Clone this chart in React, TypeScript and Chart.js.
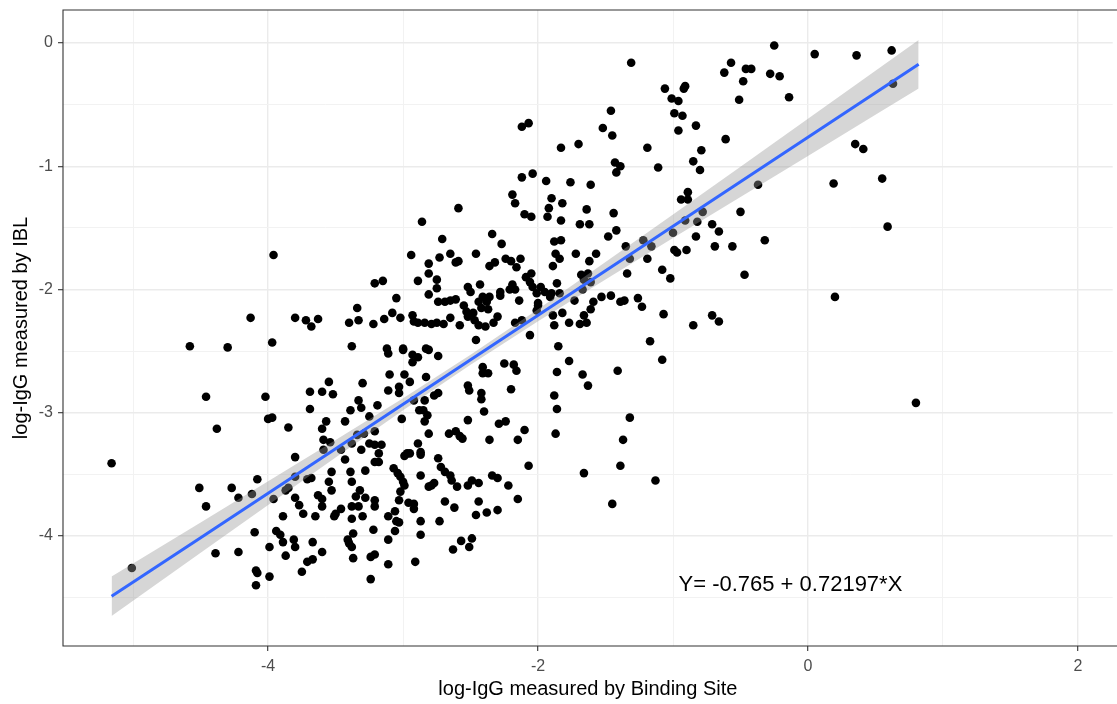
import React, { useEffect, useRef } from "react";
import { Chart, registerables } from "chart.js";

Chart.register(...registerables);

const FONT = "'Liberation Sans', Arial, Helvetica, sans-serif";

// Axis labels
const xTitle = "log-IgG measured by Binding Site";
const yTitle = "log-IgG measured by IBL";
const annotationText = "Y= -0.765 + 0.72197*X";
const annotationX = -0.13;
const annotationY = -4.4;

// Grid / tick values
const xGridValues = [-5, -4, -3, -2, -1, 0, 1, 2];
const xLabelValues = [-4, -2, 0, 2];
const yGridValues = [-4.5, -4, -3.5, -3, -2.5, -2, -1.5, -1, -0.5, 0];
const yLabelValues = [-4, -3, -2, -1, 0];

// Fitted line and 95% band, read at several x positions
const bandX = [-5.16, -4.5, -4, -3.5, -3, -2.5, -2, -1.5, -1, -0.5, 0, 0.5, 0.82];
const fitY = [-4.49, -4.014, -3.653, -3.292, -2.931, -2.57, -2.209, -1.848, -1.487, -1.126, -0.765, -0.404, -0.173];
const bandLower = [-4.65, -4.137, -3.749, -3.363, -2.98, -2.61, -2.258, -1.919, -1.583, -1.249, -0.916, -0.583, -0.37];
const bandUpper = [-4.33, -3.891, -3.557, -3.221, -2.882, -2.53, -2.16, -1.777, -1.391, -1.003, -0.614, -0.225, 0.024];

// Observations: [Binding Site, IBL]
const observations: [number, number][] = [
  [-0.25,-0.02],[0.05,-0.09],[0.36,-0.10],[0.62,-0.06],[0.63,-0.33],[-1.31,-0.16],[-0.57,-0.16],[-0.62,-0.24],[-0.46,-0.21],[-0.42,-0.21],
  [-0.28,-0.25],[-0.21,-0.27],[-0.48,-0.31],[-0.14,-0.44],[-0.51,-0.46],[-1.06,-0.37],[-0.91,-0.35],[-0.92,-0.37],[-1.01,-0.45],[-0.96,-0.47],
  [-0.99,-0.57],[-0.93,-0.59],[-0.96,-0.71],[-0.83,-0.67],[-0.61,-0.78],[0.35,-0.82],[0.41,-0.86],[-1.46,-0.55],[-1.52,-0.69],[-1.45,-0.75],
  [-2.12,-0.68],[-2.07,-0.65],[-1.83,-0.85],[-1.70,-0.82],[-1.19,-0.85],[-0.79,-0.87],
  [-1.11,-1.01],[-0.85,-0.96],[-0.80,-1.03],[0.19,-1.14],[0.55,-1.10],[-0.37,-1.15],[-0.89,-1.21],[-0.94,-1.27],[-0.89,-1.27],[-0.50,-1.37],
  [-0.78,-1.37],[-0.91,-1.44],[-0.82,-1.45],[-0.71,-1.47],[-0.66,-1.53],[0.59,-1.49],[-1.00,-1.54],[-1.22,-1.60],[-1.16,-1.65],[-0.83,-1.57],
  [-0.32,-1.60],[-0.69,-1.65],[-0.56,-1.65],[-0.99,-1.68],[-0.97,-1.70],[-0.90,-1.68],[-1.19,-1.75],[-1.08,-1.84],[-1.02,-1.91],[-0.47,-1.88],
  [0.20,-2.06],[-1.26,-2.07],[-1.23,-2.14],[-1.07,-2.20],[-0.71,-2.21],[-0.66,-2.26],[-0.85,-2.29],[-1.17,-2.42],[0.80,-2.92],[-1.08,-2.57],
  [-1.43,-0.97],[-1.39,-1.00],[-1.42,-1.05],[-2.12,-1.09],[-2.04,-1.06],[-1.94,-1.12],[-1.76,-1.13],[-1.61,-1.15],[-2.19,-1.23],[-2.17,-1.30],
  [-1.90,-1.26],[-1.82,-1.30],[-1.92,-1.34],[-1.64,-1.35],[-1.44,-1.38],[-2.59,-1.34],[-2.86,-1.45],[-2.10,-1.39],[-2.05,-1.41],[-1.93,-1.41],
  [-1.83,-1.44],[-1.69,-1.47],[-1.62,-1.47],[-1.42,-1.52],[-1.48,-1.57],[-2.34,-1.55],[-2.27,-1.63],[-2.71,-1.59],[-1.88,-1.61],[-1.83,-1.60],
  [-1.35,-1.65],[-2.94,-1.72],[-2.73,-1.74],[-2.65,-1.71],[-2.61,-1.78],[-2.59,-1.77],[-2.46,-1.71],[-2.36,-1.81],[-2.32,-1.78],[-2.24,-1.75],
  [-2.20,-1.77],[-2.13,-1.75],[-2.16,-1.82],[-1.87,-1.71],[-1.84,-1.75],[-1.89,-1.81],[-1.72,-1.71],[-1.57,-1.71],[-1.62,-1.77],[-1.32,-1.75],
  [-1.34,-1.87],[-2.81,-1.79],[-2.81,-1.87],[-3.15,-1.93],[-2.89,-1.93],[-2.75,-1.92],[-2.75,-1.99],[-2.81,-2.04],[-3.05,-2.07],[-2.74,-2.10],
  [-2.69,-2.10],[-2.65,-2.09],[-2.61,-2.08],[-2.52,-1.98],[-2.50,-2.02],[-2.43,-1.96],[-2.28,-2.02],[-2.28,-2.05],[-2.19,-1.96],[-2.21,-2.00],
  [-2.17,-2.00],[-2.14,-2.09],[-2.09,-1.90],[-2.05,-1.87],[-2.06,-1.94],[-2.04,-1.98],[-1.98,-1.98],[-2.01,-2.03],[-1.95,-2.02],[-1.86,-1.95],
  [-1.90,-2.03],[-1.84,-2.03],[-2.00,-2.11],[-1.91,-2.06],[-1.68,-1.88],[-1.63,-1.87],[-1.61,-1.94],[-1.66,-1.92],[-1.73,-2.09],[-1.59,-2.10],
  [-1.67,-2.00],[-1.53,-2.06],[-1.46,-2.05],[-1.39,-2.10],[-1.36,-2.09],[-3.08,-2.19],[-3.02,-2.23],[-3.14,-2.24],[-2.93,-2.21],[-2.92,-2.26],
  [-2.89,-2.27],[-2.84,-2.27],[-2.79,-2.28],[-2.75,-2.27],[-2.70,-2.28],[-2.65,-2.23],[-2.58,-2.29],[-2.55,-2.13],[-2.53,-2.18],[-2.48,-2.19],
  [-2.52,-2.22],[-2.44,-2.10],[-2.42,-2.15],[-2.37,-2.16],[-2.38,-2.10],[-2.41,-2.06],[-2.36,-2.06],[-2.47,-2.25],[-2.44,-2.29],[-2.39,-2.30],
  [-2.33,-2.27],[-2.30,-2.22],[-2.46,-2.41],[-2.17,-2.27],[-2.12,-2.25],[-2.06,-2.37],[-2.00,-2.13],[-2.01,-2.17],[-1.89,-2.21],[-1.88,-2.29],
  [-1.82,-2.19],[-1.77,-2.27],[-1.69,-2.28],[-1.64,-2.27],[-1.66,-2.21],[-1.61,-2.16],[-1.85,-2.46],[-3.12,-2.48],[-3.00,-2.48],[-2.83,-2.48],
  [-3.96,-1.72],[-3.21,-1.95],[-4.13,-2.23],[-3.80,-2.23],[-3.72,-2.25],[-3.68,-2.30],[-3.63,-2.24],[-3.40,-2.27],[-3.33,-2.25],[-3.34,-2.15],
  [-3.22,-2.28],[-4.58,-2.46],[-4.30,-2.47],[-3.97,-2.43],[-3.38,-2.46],[-3.55,-2.75],[-3.30,-2.76],[-3.69,-2.83],[-3.60,-2.83],[-3.52,-2.85],
  [-4.46,-2.87],[-4.02,-2.87],[-3.33,-2.90],
  [-3.10,-2.69],[-2.99,-2.69],[-2.95,-2.75],[-2.83,-2.71],[-3.11,-2.82],[-3.03,-2.79],[-3.03,-2.84],[-3.31,-2.96],[-3.39,-2.98],[-3.19,-2.94],
  [-3.25,-3.03],[-2.92,-2.90],[-2.84,-2.90],[-2.88,-2.98],[-2.85,-2.98],[-2.82,-3.02],[-2.84,-3.07],[-3.01,-3.05],[-2.77,-2.86],[-2.74,-2.84],
  [-4.00,-3.05],[-3.97,-3.04],[-3.85,-3.12],[-3.69,-2.97],[-3.57,-3.07],[-3.60,-3.13],[-3.43,-3.07],[-4.38,-3.13],
  [-5.16,-3.41],[-3.54,-3.24],[-3.59,-3.22],[-3.34,-3.18],[-3.29,-3.17],[-3.38,-3.25],[-3.31,-3.30],[-3.25,-3.25],[-3.21,-3.15],[-3.59,-3.30],
  [-3.46,-3.30],[-3.43,-3.38],[-3.80,-3.36],[-3.21,-3.40],[-3.21,-3.26],[-3.53,-3.48],[-3.39,-3.48],[-3.38,-3.56],[-3.28,-3.47],[-4.08,-3.54],
  [-3.80,-3.52],[-3.71,-3.54],[-3.68,-3.53],[-3.85,-3.61],[-3.87,-3.63],[-3.80,-3.69],[-3.77,-3.75],[-3.96,-3.70],[-4.12,-3.66],[-4.22,-3.69],
  [-4.27,-3.61],[-4.51,-3.61],[-4.46,-3.76],[-3.55,-3.56],[-3.53,-3.63],[-3.63,-3.67],[-3.60,-3.70],[-3.60,-3.76],[-3.74,-3.82],[-3.65,-3.84],
  [-3.89,-3.84],[-3.51,-3.84],[-3.50,-3.82],[-3.46,-3.78],[-3.38,-3.86],[-3.30,-3.84],[-3.33,-3.76],[-3.35,-3.68],[-3.28,-3.69],[-3.32,-3.63],
  [-3.21,-3.76],[-3.21,-3.71],[-4.10,-3.97],[-3.94,-3.96],[-3.91,-3.99],[-3.89,-4.05],[-3.81,-4.03],[-3.80,-4.09],[-3.99,-4.09],[-3.87,-4.16],
  [-3.67,-4.05],[-3.60,-4.13],[-3.71,-4.21],[-3.67,-4.19],[-3.75,-4.29],[-4.39,-4.14],[-4.22,-4.13],[-4.09,-4.28],[-4.08,-4.30],[-3.99,-4.33],
  [-4.09,-4.40],[-5.01,-4.26],[-3.41,-4.03],[-3.38,-4.09],[-3.37,-3.98],[-3.40,-4.06],[-3.37,-4.18],[-3.24,-4.17],[-3.21,-4.15],[-3.22,-3.95],
  [-3.24,-4.35],[-3.11,-4.03],[-3.11,-4.23],[-3.06,-3.96],[-3.05,-3.88],[-3.06,-3.80],[-3.38,-3.76],[-3.11,-3.84],
  [-3.11,-2.52],[-3.00,-2.49],[-2.93,-2.53],[-2.93,-2.59],[-2.89,-2.55],[-2.81,-2.49],[-2.74,-2.54],[-2.81,-3.17],[-2.89,-3.25],[-2.87,-3.32],
  [-2.87,-3.34],[-2.97,-3.33],[-2.99,-3.35],[-2.95,-3.33],[-3.16,-3.26],[-3.18,-3.33],[-3.18,-3.40],[-3.07,-3.45],[-3.04,-3.49],[-3.02,-3.52],
  [-3.00,-3.56],[-2.99,-3.59],[-3.02,-3.64],[-3.03,-3.71],[-2.96,-3.73],[-2.92,-3.74],[-2.92,-3.78],[-2.87,-3.51],[-3.03,-3.89],[-2.91,-4.21],
  [-2.87,-3.88],[-2.87,-3.99],[-2.73,-3.88],[-2.74,-3.37],[-2.72,-3.44],[-2.69,-3.48],[-2.65,-3.51],[-2.64,-3.55],[-2.60,-3.60],[-2.81,-3.60],
  [-2.79,-3.59],[-2.77,-3.57],[-2.69,-3.72],[-2.62,-3.77],[-2.66,-3.17],[-2.61,-3.15],[-2.58,-3.19],[-2.56,-3.21],[-2.52,-3.06],[-2.52,-2.78],
  [-2.51,-2.82],[-2.42,-2.84],[-2.42,-2.89],[-2.40,-2.99],[-2.41,-2.63],[-2.41,-2.68],[-2.37,-2.68],[-2.25,-2.60],[-2.18,-2.61],[-2.16,-2.66],
  [-2.20,-2.81],[-2.29,-3.09],[-2.24,-3.07],[-2.36,-3.22],[-2.15,-3.22],[-2.10,-3.14],[-2.07,-3.43],[-2.52,-3.59],[-2.49,-3.55],[-2.44,-3.57],
  [-2.34,-3.51],[-2.30,-3.53],[-2.22,-3.59],[-2.15,-3.70],[-2.44,-3.72],[-2.46,-3.83],[-2.38,-3.81],[-2.30,-3.79],[-2.63,-4.11],[-2.57,-4.04],
  [-2.49,-4.02],[-2.51,-4.09],[-1.86,-2.67],[-1.77,-2.58],[-1.67,-2.69],[-1.63,-2.78],[-1.41,-2.66],[-1.88,-2.86],[-1.86,-2.97],[-1.87,-3.17],
  [-1.32,-3.04],[-1.37,-3.22],[-1.39,-3.43],[-1.66,-3.49],[-1.45,-3.74],[-1.13,-3.55]
];

const X_MIN = -5.52;
const X_MAX = 2.258;
const Y_MIN = -4.893;
const Y_MAX = 0.268;

const panelPlugin = {
  id: "panelDecor",
  afterDraw(chart: any) {
    const { ctx, chartArea, scales } = chart;
    const { left, top, right, bottom } = chartArea;
    ctx.save();
    ctx.font = `22px ${FONT}`;
    ctx.fillStyle = "#000000";
    ctx.textAlign = "center";
    ctx.textBaseline = "middle";
    ctx.fillText(annotationText, scales.x.getPixelForValue(annotationX), scales.y.getPixelForValue(annotationY));
    ctx.strokeStyle = "#333333";
    ctx.lineWidth = 1.1;
    ctx.beginPath();
    ctx.moveTo(right + 10, top);
    ctx.lineTo(left, top);
    ctx.lineTo(left, bottom);
    ctx.lineTo(right + 10, bottom);
    ctx.stroke();
    ctx.restore();
  },
};

const isIn = (arr: number[], v: number) => arr.some((a) => Math.abs(a - v) < 1e-6);

export default function App() {
  const canvasRef = useRef<HTMLCanvasElement | null>(null);

  useEffect(() => {
    const canvas = canvasRef.current;
    if (!canvas) return;
    const chart = new Chart(canvas, {
      type: "scatter",
      data: {
        datasets: [
          {
            label: "fit",
            data: bandX.map((x, i) => ({ x, y: fitY[i] })),
            showLine: true,
            borderColor: "#3366FF",
            borderWidth: 3,
            pointRadius: 0,
            tension: 0,
            fill: false,
            order: 1,
          },
          {
            label: "lower",
            data: bandX.map((x, i) => ({ x, y: bandLower[i] })),
            showLine: true,
            borderColor: "rgba(0,0,0,0)",
            borderWidth: 0,
            pointRadius: 0,
            fill: false,
            order: 2,
          },
          {
            label: "upper",
            data: bandX.map((x, i) => ({ x, y: bandUpper[i] })),
            showLine: true,
            borderColor: "rgba(0,0,0,0)",
            borderWidth: 0,
            pointRadius: 0,
            backgroundColor: "rgba(153,153,153,0.4)",
            fill: "-1",
            order: 2,
          },
          {
            label: "obs",
            data: observations.map(([x, y]) => ({ x, y })),
            pointRadius: 4.3,
            pointBackgroundColor: "#000000",
            pointBorderWidth: 0,
            borderWidth: 0,
            order: 3,
          },
        ],
      } as any,
      options: {
        responsive: false,
        animation: false,
        events: [],
        layout: { padding: { top: 10, right: 0, left: 0, bottom: 0 } },
        plugins: {
          legend: { display: false },
          tooltip: { enabled: false },
        },
        scales: {
          x: {
            type: "linear",
            min: X_MIN,
            max: X_MAX,
            afterBuildTicks: (axis: any) => {
              axis.ticks = xGridValues.map((v) => ({ value: v }));
            },
            afterFit: (axis: any) => {
              axis.height = 58;
              axis.paddingLeft = 0;
              axis.paddingRight = 0;
            },
            border: { display: false },
            grid: {
              color: (c: any) => (c.tick && isIn(xLabelValues, c.tick.value) ? "#EBEBEB" : "#F2F2F2"),
              lineWidth: (c: any) => (c.tick && isIn(xLabelValues, c.tick.value) ? 1.4 : 1),
              tickColor: (c: any) => (c.tick && isIn(xLabelValues, c.tick.value) ? "#333333" : "rgba(0,0,0,0)"),
              tickLength: 5,
              tickWidth: 1.1,
            },
            ticks: {
              autoSkip: false,
              maxRotation: 0,
              padding: 6,
              color: "#4D4D4D",
              font: { family: FONT, size: 16 },
              callback: (v: any) => (isIn(xLabelValues, Number(v)) ? String(v) : ""),
            },
            title: {
              display: true,
              text: xTitle,
              color: "#000000",
              font: { family: FONT, size: 20 },
              padding: { top: 0, bottom: 3 },
            },
          },
          y: {
            type: "linear",
            min: Y_MIN,
            max: Y_MAX,
            afterBuildTicks: (axis: any) => {
              axis.ticks = yGridValues.map((v) => ({ value: v }));
            },
            afterFit: (axis: any) => {
              axis.width = 63;
              axis.paddingTop = 0;
              axis.paddingBottom = 0;
            },
            border: { display: false },
            grid: {
              color: (c: any) => (c.tick && isIn(yLabelValues, c.tick.value) ? "#EBEBEB" : "#F2F2F2"),
              lineWidth: (c: any) => (c.tick && isIn(yLabelValues, c.tick.value) ? 1.4 : 1),
              tickColor: (c: any) => (c.tick && isIn(yLabelValues, c.tick.value) ? "#333333" : "rgba(0,0,0,0)"),
              tickLength: 5,
              tickWidth: 1.1,
            },
            ticks: {
              autoSkip: false,
              padding: 5,
              color: "#4D4D4D",
              font: { family: FONT, size: 16 },
              callback: (v: any) => (isIn(yLabelValues, Number(v)) ? String(v) : ""),
            },
            title: {
              display: true,
              text: yTitle,
              color: "#000000",
              font: { family: FONT, size: 20 },
              padding: { top: 9, bottom: 0 },
            },
          },
        },
      } as any,
      plugins: [panelPlugin],
    });
    return () => chart.destroy();
  }, []);

  return (
    <div style={{ position: "fixed", left: 0, top: 0, width: 1117, height: 704, background: "#ffffff", overflow: "hidden" }}>
      <canvas ref={canvasRef} width={1117} height={704} style={{ display: "block" }} />
    </div>
  );
}
